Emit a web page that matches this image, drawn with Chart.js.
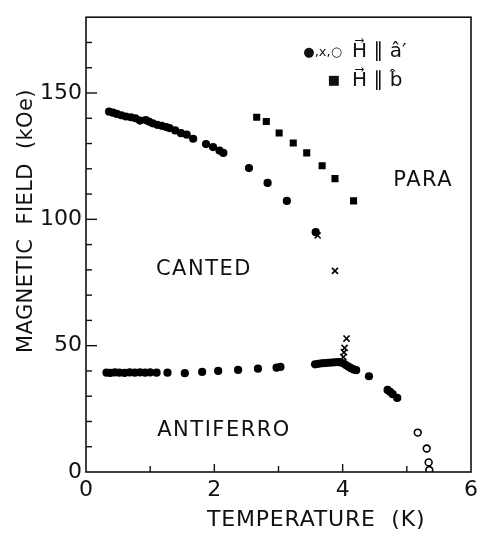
<!DOCTYPE html>
<html><head><meta charset="utf-8">
<script src="https://cdn.jsdelivr.net/npm/chart.js@4/dist/chart.umd.min.js"></script>
<style>html,body{margin:0;padding:0;background:#fff}#wrap{width:483px;height:533px;position:relative}</style>
</head><body><div id="wrap"><canvas id="c"></canvas></div>
<script>
// Canted -> para boundary, H || a' (filled circles)
const cantedT = [0.36,0.42,0.48,0.55,0.62,0.70,0.77,0.84,0.93,0.98,1.04,1.11,1.18,1.25,1.30,1.39,1.48,1.57,1.67,1.87,1.98,2.08,2.14,2.54,2.83,3.13,3.58];
const cantedH = [142.6,142.2,141.7,141.2,140.7,140.4,140.0,139.1,139.3,138.7,138.0,137.4,137.0,136.5,136.1,135.2,134.1,133.5,131.9,129.8,128.6,127.2,126.3,120.3,114.4,107.3,94.9];
// Antiferro -> canted boundary, H || a' (filled circles)
const afT = [0.32,0.38,0.45,0.52,0.60,0.68,0.76,0.84,0.92,1.00,1.10,1.27,1.54,1.81,2.06,2.37,2.68,2.97,3.03,3.57,3.62,3.67,3.72,3.77,3.82,3.87,3.92,3.96,4.01,4.05,4.09,4.13,4.17,4.21,4.41,4.70,4.74,4.78,4.85];
const afH = [39.3,39.2,39.4,39.3,39.2,39.4,39.3,39.4,39.3,39.4,39.3,39.3,39.1,39.6,40.0,40.4,40.9,41.3,41.6,42.6,42.8,43.0,43.1,43.2,43.3,43.4,43.5,43.4,43.0,42.3,41.7,41.1,40.6,40.3,37.9,32.5,31.7,30.8,29.3];
// H || a' (crosses)
const crossT = [3.61,3.88,4.01,4.02,4.03,4.06];
const crossH = [93.6,79.6,45.5,47.4,49.1,52.8];
// H || a' (open circles)
const openT = [5.17,5.31,5.34,5.35];
const openH = [15.6,9.3,3.8,0.8];
// H || b (squares)
const bT = [2.66,2.81,3.01,3.23,3.44,3.68,3.88,4.17];
const bH = [140.4,138.7,134.2,130.2,126.3,121.2,116.1,107.3];

const xTicks = [0,2,4,6];
const yTicks = [0,50,100,150];
const xTitle = 'TEMPERATURE  (K)';
const yTitle = 'MAGNETIC  FIELD  (kOe)';
const regionLabels = [
  {text:'CANTED', t:1.09, h:80},
  {text:'PARA', t:4.79, h:115.3},
  {text:'ANTIFERRO', t:1.11, h:16.5}
];

const FONT = '"DejaVu Sans", sans-serif';
const pts = (xs, ys) => xs.map((x,i)=>({x:x, y:ys[i]}));

const framePlugin = {
  id:'frame',
  afterDraw(chart){
    const ctx = chart.ctx, a = chart.chartArea;
    const xs = chart.scales.x, ys = chart.scales.y;
    ctx.save();
    ctx.strokeStyle = '#111';
    ctx.lineWidth = 1.6;
    ctx.strokeRect(a.left, a.top, a.right - a.left, a.bottom - a.top);
    ctx.lineWidth = 1.4;
    ys.ticks.forEach(tk=>{
      const v = tk.value; if (v<=ys.min || v>=ys.max) return;
      const y = ys.getPixelForValue(v);
      const len = yTicks.includes(v) ? 11 : 6;
      ctx.beginPath(); ctx.moveTo(a.left, y); ctx.lineTo(a.left+len, y); ctx.stroke();
    });
    xs.ticks.forEach(tk=>{
      const v = tk.value; if (v<=xs.min || v>=xs.max) return;
      const x = xs.getPixelForValue(v);
      const len = xTicks.includes(v) ? 8 : 6;
      ctx.beginPath(); ctx.moveTo(x, a.bottom); ctx.lineTo(x, a.bottom-len); ctx.stroke();
    });
    ctx.fillStyle = '#111';
    // axis titles
    ctx.textBaseline = 'middle';
    ctx.textAlign = 'left';
    ctx.font = '22px ' + FONT;
    ctx.letterSpacing = '0.8px';
    ctx.fillText(xTitle, 207, 520);
    ctx.save();
    ctx.font = '21px ' + FONT;
    ctx.letterSpacing = '0.4px';
    ctx.translate(27, 353); ctx.rotate(-Math.PI/2);
    ctx.fillText(yTitle, 0, 0);
    ctx.restore();
    // region labels
    ctx.font = '21px ' + FONT;
    ctx.letterSpacing = '1.5px';
    regionLabels.forEach(l=>{
      ctx.fillText(l.text, xs.getPixelForValue(l.t), ys.getPixelForValue(l.h));
    });
    ctx.letterSpacing = '0px';
    // legend
    ctx.font = '13px ' + FONT;
    ctx.textAlign = 'right';
    ctx.fillText('\u25CF,x,\u25CB', 342, 53);
    ctx.fillText('\u25A0', 340, 81);
    ctx.font = '20px ' + FONT;
    ctx.textAlign = 'left';
    ctx.fillText('H\u20D7 \u2225 \u00E2\u2032', 352, 52);
    ctx.fillText('H\u20D7 \u2225 b\u0302', 352, 81);
    ctx.restore();
  }
};

new Chart(document.getElementById('c'), {
  type:'scatter',
  data:{datasets:[
    {label:'x', data:pts(crossT,crossH), pointStyle:'crossRot', pointRadius:4.3, borderColor:'#000', borderWidth:1.6, backgroundColor:'#000'},
    {label:'open', data:pts(openT,openH), pointStyle:'circle', pointRadius:3.4, borderColor:'#000', borderWidth:1.6, backgroundColor:'#fff'},
    {label:'b', data:pts(bT,bH), pointStyle:'rect', pointRadius:5, borderWidth:0, backgroundColor:'#000'},
    {label:'canted', data:pts(cantedT,cantedH), pointStyle:'circle', pointRadius:4.1, borderWidth:0, backgroundColor:'#000'},
    {label:'af', data:pts(afT,afH), pointStyle:'circle', pointRadius:4.1, borderWidth:0, backgroundColor:'#000'}
  ]},
  options:{
    responsive:true, maintainAspectRatio:false, animation:false,
    layout:{padding:{left:0,right:6,top:13,bottom:0}},
    plugins:{legend:{display:false}, tooltip:{enabled:false}},
    scales:{
      x:{type:'linear', min:0, max:6,
        grid:{display:false, drawTicks:false}, border:{display:false},
        ticks:{stepSize:1, autoSkip:false, maxRotation:0, padding:5, color:'#111',
          font:{family:FONT, size:22},
          callback:v=> xTicks.includes(v) ? String(v) : ''},
        afterFit:s=>{s.height = 61;}
      },
      y:{type:'linear', min:0, max:180,
        grid:{display:false, drawTicks:false}, border:{display:false},
        ticks:{stepSize:10, autoSkip:false, padding:4, color:'#111',
          font:{family:FONT, size:22},
          callback:v=> yTicks.includes(v) ? String(v) : ''},
        afterFit:s=>{s.width = 86;}
      }
    }
  },
  plugins:[framePlugin]
});
</script></body></html>
